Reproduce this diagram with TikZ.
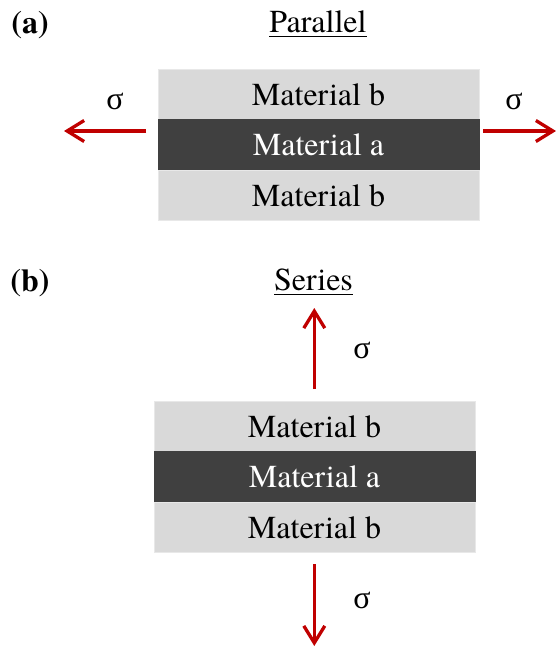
\documentclass[tikz,border=0pt]{standalone}
\usepackage{fontspec}
\setmainfont{texgyretermes}[
  Extension=.otf,
  UprightFont=*-regular,
  BoldFont=*-bold,
  ItalicFont=*-italic,
  BoldItalicFont=*-bolditalic]
\newfontfamily\greekfont{Liberation Serif}
\usetikzlibrary{arrows.meta}
\definecolor{lightlayer}{HTML}{D9D9D9}
\definecolor{lightedge}{HTML}{E8E8E8}
\definecolor{darklayer}{HTML}{404040}
\definecolor{stressred}{HTML}{C00000}
\tikzset{
  every node/.style={inner sep=0pt, outer sep=0pt, font=\fontsize{32}{38}\selectfont},
  layerb/.style={rectangle, fill=lightlayer, draw=lightedge, line width=0.8pt,
    minimum width=321pt, minimum height=50.5pt, text=black},
  layera/.style={rectangle, fill=darklayer, draw=darklayer, line width=0.8pt,
    minimum width=321pt, minimum height=50.5pt, text=white},
  stress/.style={draw=stressred, line width=3.3pt,
    -{Straight Barb[length=17pt, width=21pt, line width=3.3pt]}},
  sigmalabel/.style={font=\fontsize{32}{38}\selectfont\greekfont},
  panellabel/.style={font=\fontsize{32}{38}\selectfont\bfseries},
  heading/.style={anchor=base},
  underl/.style={line width=1.3pt}
}
\begin{document}
\begin{tikzpicture}[x=1pt, y=-1pt]
\useasboundingbox (0,0) rectangle (556,647);

% ---- (a) parallel loading ----
\node[panellabel] (la) at (30,25) {(a)};
\node[heading] (ha) at (318,32.3) {Parallel};
\draw[underl] ([yshift=-4.4pt]ha.base west) -- ([yshift=-4.4pt]ha.base east);

\node[layerb] (at) at (318.5,94.25) {Material b};
\node[layera] (am) at (318.5,144.75) {Material a};
\node[layerb] (ab) at (318.5,195.25) {Material b};

\coordinate (aLs) at (146,131);
\coordinate (aLe) at (64,131);
\coordinate (aRs) at (483,131);
\coordinate (aRe) at (556,131);
\draw[stress] (aLs) -- (aLe);
\draw[stress] (aRs) -- (aRe);
\node[sigmalabel] (sa1) at (115,101.5) {σ};
\node[sigmalabel] (sa2) at (514,101.5) {σ};

% ---- (b) series loading ----
\node[panellabel] (lb) at (30,283) {(b)};
\node[heading] (hb) at (313.5,290.3) {Series};
\draw[underl] ([yshift=-4.4pt]hb.base west) -- ([yshift=-4.4pt]hb.base east);

\node[layerb] (bt) at (314.5,426.25) {Material b};
\node[layera] (bm) at (314.5,476.75) {Material a};
\node[layerb] (bb) at (314.5,527.25) {Material b};

\coordinate (bUs) at (314.3,389);
\coordinate (bUe) at (314.3,308);
\coordinate (bDs) at (314.3,564);
\coordinate (bDe) at (314.3,646);
\draw[stress] (bUs) -- (bUe);
\draw[stress] (bDs) -- (bDe);
\node[sigmalabel] (sb1) at (362,350) {σ};
\node[sigmalabel] (sb2) at (362,600) {σ};
\end{tikzpicture}
\end{document}
